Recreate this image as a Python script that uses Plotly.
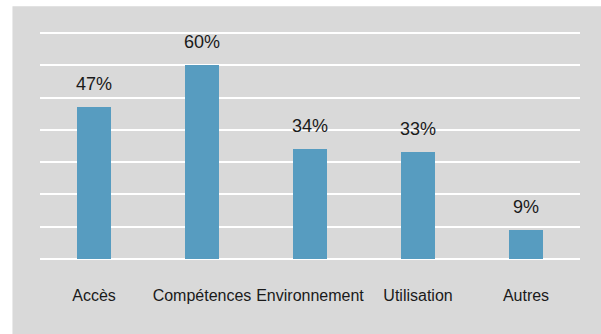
import plotly.graph_objects as go

categories = ["Accès", "Compétences", "Environnement", "Utilisation", "Autres"]
values = [47, 60, 34, 33, 9]
labels = ["47%", "60%", "34%", "33%", "9%"]

BAR_COLOR = "#579cc0"
PANEL = "#d9d9d9"
TEXT = "#1a1a1a"
FONT = "Liberation Sans, Arial, sans-serif"

fig = go.Figure(
    go.Bar(
        x=categories,
        y=values,
        marker=dict(color=BAR_COLOR, line=dict(width=0)),
        width=0.315,
        hoverinfo="skip",
    )
)

# value labels above each bar
for cat, val, lab in zip(categories, values, labels):
    fig.add_annotation(
        x=cat, y=val, text=lab, showarrow=False,
        yanchor="bottom", yshift=11,
        font=dict(family=FONT, size=18, color=TEXT),
    )

# grey panel behind the chart
fig.add_shape(
    type="rect", xref="paper", yref="paper",
    x0=-0.051, x1=1.05, y0=-0.5, y1=1.102,
    fillcolor=PANEL, line=dict(width=0), layer="below",
)

fig.update_layout(
    width=601, height=334,
    margin=dict(l=40, r=21, t=29.7, b=71.5, autoexpand=False),
    paper_bgcolor="white",
    plot_bgcolor=PANEL,
    showlegend=False,
    bargap=0,
    font=dict(family=FONT, size=16, color=TEXT),
)
fig.update_xaxes(
    showgrid=False, showline=False, zeroline=False,
    ticks="", ticklabelstandoff=22, tickangle=0, automargin=False,
    tickfont=dict(family=FONT, size=16, color=TEXT),
)
fig.update_yaxes(
    range=[-1, 71], dtick=10, tick0=0,
    showgrid=True, gridcolor="white", gridwidth=1.6,
    zeroline=True, zerolinecolor="white", zerolinewidth=1.6,
    showticklabels=False, ticks="", showline=False, automargin=False,
)

fig.write_html("out.html")
